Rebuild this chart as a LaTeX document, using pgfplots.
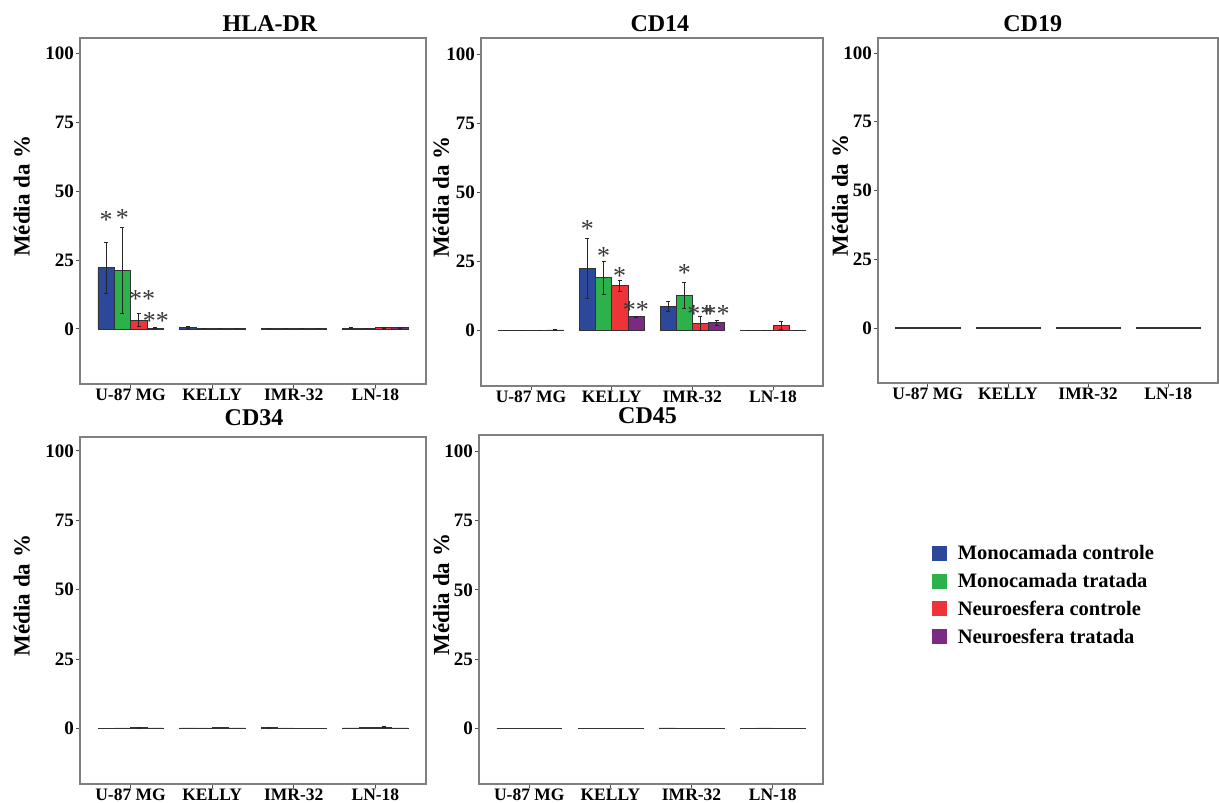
\documentclass[border=0pt]{standalone}
\usepackage{fontspec}
\setmainfont{Liberation Serif}
\usepackage{pgfplots}
\pgfplotsset{compat=1.18}
\definecolor{mblue}{RGB}{44,72,155}
\definecolor{mgreen}{RGB}{45,178,75}
\definecolor{mred}{RGB}{238,52,57}
\definecolor{mpurple}{RGB}{123,41,131}
\definecolor{axgray}{RGB}{128,128,128}
\pgfplotsset{
 panel/.style={
  scale only axis,
  xmin=-0.62, xmax=3.62, ymin=-20, ymax=105.5,
  xtick={0,1,2,3}, xticklabels={U-87 MG,KELLY,IMR-32,LN-18},
  ytick={0,25,50,75,100},
  /pgf/number format/assume math mode=true,
  tick align=outside, tick pos=left, major tick length=4bp,
  axis line style={draw=axgray, line width=1.3bp},
  every tick/.style={draw=black!70, line width=0.8bp},
  xticklabel style={font=\fontsize{17.5bp}{20bp}\selectfont\bfseries, inner sep=1bp},
  yticklabel style={font=\fontsize{19bp}{22bp}\selectfont\bfseries, inner sep=2bp},
  ylabel={Média da \%},
  ylabel style={font=\fontsize{23bp}{26bp}\selectfont\bfseries, anchor=center},
  title style={font=\fontsize{24bp}{28bp}\selectfont\bfseries, anchor=base},
  clip=false,
 },
 bars/.style={ybar, bar shift=0pt, bar width=0.2, fill=#1, draw=black!80, line width=0.55bp,
   error bars/y dir=both, error bars/y explicit,
   error bars/error bar style={black!85, line width=0.6bp},
   error bars/error mark options={rotate=90, mark size=2bp, black!85, line width=0.6bp}},
 stars/.style={forget plot, draw=none, mark=none, nodes near coords, point meta=explicit symbolic,
   every node near coord/.style={anchor=center, yshift=-4.5bp, font=\fontsize{26bp}{28bp}\selectfont, text=black!78, inner sep=0pt}},
 limg/.style={legend image code/.code={\fill[#1] (0bp,-7bp) rectangle (14bp,7bp); \path (23bp,0bp);}},
}
\begin{document}
\begin{tikzpicture}
\useasboundingbox (0,0) rectangle (1219bp,803bp);
% HLA-DR
\begin{axis}[panel, at={(80bp,419bp)}, anchor=south west, width=346bp, height=346bp,
  title={HLA-DR}, title style={at={(axis description cs:0.549,1)}, yshift=1bp},
  ylabel style={at={(axis description cs:-0.168,0.543)}}]
\addplot[bars=mblue] coordinates {(-0.3,22.2) +- (0,9.2) (0.7,0.6) +- (0,0.3) (1.7,0.1) +- (0,0) (2.7,0.3) +- (0,0.1)};
\addplot[bars=mgreen] coordinates {(-0.1,21.3) +- (0,15.6) (0.9,0.1) +- (0,0) (1.9,0.1) +- (0,0) (2.9,0.2) +- (0,0.1)};
\addplot[bars=mred] coordinates {(0.1,3.2) +- (0,2.3) (1.1,0.1) +- (0,0) (2.1,0.1) +- (0,0) (3.1,0.4) +- (0,0.2)};
\addplot[bars=mpurple] coordinates {(0.3,0.3) +- (0,0.1) (1.3,0.1) +- (0,0) (2.3,0.1) +- (0,0) (3.3,0.5) +- (0,0.2)};
\addplot[stars] coordinates {(-0.3,41.1) [*] (-0.1,41.8) [*] (0.14,12.4) [**] (0.31,4.5) [**]};
\end{axis}
% CD14
\begin{axis}[panel, at={(481bp,417bp)}, anchor=south west, width=342bp, height=348bp, ymax=106,
  title={CD14}, title style={at={(axis description cs:0.523,1)}, yshift=1bp},
  ylabel style={at={(axis description cs:-0.117,0.543)}}]
\addplot[bars=mblue] coordinates {(-0.3,0.1) +- (0,0) (0.7,22.7) +- (0,10.9) (1.7,8.8) +- (0,1.7) (2.7,0.1) +- (0,0)};
\addplot[bars=mgreen] coordinates {(-0.1,0.1) +- (0,0) (0.9,19.2) +- (0,6.0) (1.9,12.8) +- (0,4.7) (2.9,0.1) +- (0,0)};
\addplot[bars=mred] coordinates {(0.1,0.2) +- (0,0.1) (1.1,16.4) +- (0,2.0) (2.1,2.7) +- (0,2.4) (3.1,1.9) +- (0,1.4)};
\addplot[bars=mpurple] coordinates {(0.3,0.3) +- (0,0.1) (1.3,5.2) +- (0,0.2) (2.3,2.9) +- (0,1.0) (3.3,0.2) +- (0,0)};
\addplot[stars] coordinates {(0.7,38.4) [*] (0.9,28.7) [*] (1.1,21.5) [*] (1.3,9.1) [**] (1.9,22.7) [*] (2.1,7.6) [**] (2.3,7.6) [**]};
\end{axis}
% CD19
\begin{axis}[panel, at={(878bp,420bp)}, anchor=south west, width=340bp, height=345bp,
  title={CD19}, title style={at={(axis description cs:0.455,1)}, yshift=1bp},
  ylabel style={at={(axis description cs:-0.112,0.543)}}]
\addplot[bars=mblue] coordinates {(-0.3,0.1) (0.7,0.1) (1.7,0.1) (2.7,0.1)};
\addplot[bars=mgreen] coordinates {(-0.1,0.1) (0.9,0.1) (1.9,0.1) (2.9,0.1)};
\addplot[bars=mred] coordinates {(0.1,0.1) (1.1,0.1) (2.1,0.1) (3.1,0.1)};
\addplot[bars=mpurple] coordinates {(0.3,0.1) (1.3,0.1) (2.3,0.1) (3.3,0.1)};
\end{axis}
% CD34
\begin{axis}[panel, at={(80bp,19bp)}, anchor=south west, width=346bp, height=347bp, ymax=105,
  title={CD34}, title style={at={(axis description cs:0.503,1)}, yshift=6bp},
  ylabel style={at={(axis description cs:-0.168,0.543)}}]
\addplot[bars=mblue] coordinates {(-0.3,0.1) (0.7,0.2) (1.7,0.3) +- (0,0.1) (2.7,0.2)};
\addplot[bars=mgreen] coordinates {(-0.1,0.2) (0.9,0.2) (1.9,0.2) (2.9,0.3)};
\addplot[bars=mred] coordinates {(0.1,0.4) +- (0,0.2) (1.1,0.3) (2.1,0.1) (3.1,0.5) +- (0,0.2)};
\addplot[bars=mpurple] coordinates {(0.3,0.2) (1.3,0.2) (2.3,0.1) (3.3,0.2)};
\end{axis}
% CD45
\begin{axis}[panel, at={(479bp,19bp)}, anchor=south west, width=344bp, height=349bp, ymax=105.8,
  title={CD45}, title style={at={(axis description cs:0.49,1)}, yshift=6bp},
  ylabel style={at={(axis description cs:-0.11,0.543)}},
  legend style={draw=none, fill=none, at={(axis description cs:1.317,0.69)}, anchor=north west,
    font=\fontsize{20.5bp}{24bp}\selectfont\bfseries, row sep=8bp, inner sep=0pt,
    cells={anchor=west}},
  ]
\addplot[limg=mblue, bars=mblue] coordinates {(-0.3,0.1) (0.7,0.1) (1.7,0.2) (2.7,0.1)};
\addlegendentry{Monocamada controle}
\addplot[limg=mgreen, bars=mgreen] coordinates {(-0.1,0.1) (0.9,0.1) (1.9,0.1) (2.9,0.2)};
\addlegendentry{Monocamada tratada}
\addplot[limg=mred, bars=mred] coordinates {(0.1,0.1) (1.1,0.1) (2.1,0.1) (3.1,0.1)};
\addlegendentry{Neuroesfera controle}
\addplot[limg=mpurple, bars=mpurple] coordinates {(0.3,0.1) (1.3,0.1) (2.3,0.1) (3.3,0.1)};
\addlegendentry{Neuroesfera tratada}
\end{axis}
\end{tikzpicture}
\end{document}
